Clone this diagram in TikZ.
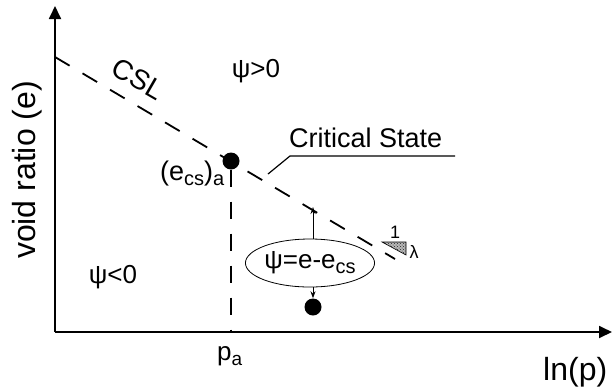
\documentclass[tikz,border=0pt]{standalone}
\usepackage{fontspec}
\setmainfont{Liberation Sans}
\usetikzlibrary{arrows.meta,shapes.geometric,patterns}
\newcommand\lowtxt[2]{\raisebox{-5pt}{\fontsize{#1}{#1}\selectfont #2}}
\begin{document}
\begin{tikzpicture}[x=1pt,y=-1pt,
  axis/.style={line width=1.8pt,-{Triangle[length=13pt,width=12pt]}},
  csl/.style={line width=1.8pt,dash pattern=on 17pt off 15pt},
  dotnode/.style={circle,fill=black,inner sep=0pt,minimum size=17pt},
  lbl/.style={inner sep=0pt,font=\fontsize{27}{31}\selectfont},
  psilbl/.style={inner sep=0pt,font=\fontsize{26}{30}\selectfont},
  biglbl/.style={inner sep=0pt,font=\fontsize{32}{36}\selectfont},
  thinarrow/.style={line width=1pt,-{Stealth[length=7pt,width=5pt]}}]
\useasboundingbox (0,0) rectangle (612,389);
% axes
\coordinate (O) at (55,332);
\coordinate (ytop) at (55,6);
\coordinate (xend) at (612,332);
\draw[axis] (O) -- (ytop);
\draw[axis] (O) -- (xend);
% critical state line
\coordinate (c1) at (55,57);
\coordinate (c2) at (395,259);
\draw[csl] (c1) -- (c2);
\node[inner sep=0pt,font=\fontsize{28}{32}\selectfont,rotate=-30] (csllbl) at (138,79) {CSL};
% point on CSL
\node[dotnode] (A) at (231,161) {};
\coordinate (pa) at (231,332);
\draw[csl] (A.south) -- (pa);
\node[lbl,anchor=base west] (eca) at (160,180) {(e\lowtxt{20}{cs})\lowtxt{20}{a}};
\node[inner sep=0pt,font=\fontsize{26}{30}\selectfont,anchor=base west] (palbl) at (217,360) {p\lowtxt{19}{a}};
% labels
\node[psilbl] (pos) at (256,71) {ψ>0};
\node[psilbl] (neg) at (113,277) {ψ<0};
\node[biglbl,rotate=90] (ylab) at (27,170) {void ratio (e)};
\node[biglbl,anchor=base west] (xlab) at (543,380) {ln(p)};
% critical state leader
\node[inner sep=0pt,anchor=base west,font=\fontsize{27}{31}\selectfont] (cslbl) at (289,147) {Critical State};
\coordinate (u0) at (268,174);
\coordinate (u1) at (290,156);
\coordinate (u2) at (455,156);
\draw[line width=1.2pt] (u0) -- (u1) -- (u2);
% state parameter
\node[draw,ellipse,line width=0.8pt,inner sep=0pt,minimum width=108pt,minimum height=48pt,
  font=\fontsize{26}{30}\selectfont] (psi) at (310,263) {ψ=e-e\lowtxt{20}{cs}};
\coordinate (up) at (313,207);
\draw[thinarrow] (psi.north -| up) -- (up);
\node[dotnode] (B) at (313,307) {};
\draw[thinarrow] (psi.south -| B) -- (B.north);
% slope triangle
\coordinate (t1) at (382,242);
\coordinate (t2) at (406,242);
\coordinate (t3) at (406,255);
\fill[gray!55] (t1) -- (t2) -- (t3) -- cycle;
\fill[pattern=crosshatch dots,pattern color=black!85] (t1) -- (t2) -- (t3) -- cycle;
\draw[line width=0.6pt] (t1) -- (t2) -- (t3) -- cycle;
\node[inner sep=0pt,font=\fontsize{18}{20}\selectfont] (one) at (395,232) {1};
\node[inner sep=0pt,font=\fontsize{18}{20}\selectfont] (lam) at (414,252) {λ};
\end{tikzpicture}
\end{document}
